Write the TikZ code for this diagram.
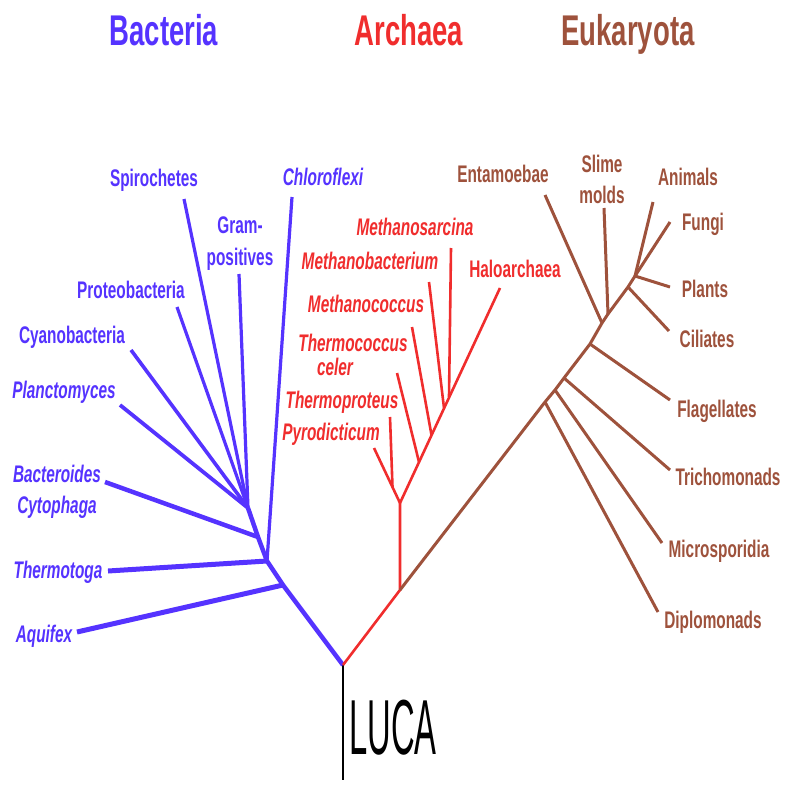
\documentclass[tikz,border=0pt]{standalone}
\usepackage{fontspec}
\setmainfont{Liberation Sans}[FakeStretch=0.64]
\newfontfamily\lucafont{Liberation Sans}[FakeStretch=0.42]
\definecolor{bact}{RGB}{85,51,255}
\definecolor{arch}{RGB}{240,45,45}
\definecolor{euk}{RGB}{158,82,60}
\begin{document}
\begin{tikzpicture}[x=1pt,y=-1pt,
  lab/.style={inner sep=0pt,anchor=base,font=\fontsize{24}{22}\selectfont\bfseries},
  itl/.style={lab,font=\fontsize{24}{22}\selectfont\bfseries\itshape},
  ttl/.style={inner sep=0pt,anchor=base,font=\fontsize{43}{43}\selectfont\bfseries},
  bl/.style={draw=bact,line width=3.2pt},
  blk/.style={draw=bact,line width=4.5pt},
  rl/.style={draw=arch,line width=2.6pt},
  el/.style={draw=euk,line width=3pt},
  line cap=butt, line join=round]
\useasboundingbox (0,0) rectangle (800,800);

% titles
\node[ttl,text=bact] (tB) at (164,46) {Bacteria};
\node[ttl,text=arch] (tA) at (409,46) {Archaea};
\node[ttl,text=euk]  (tE) at (628,46) {Eukaryota};

% root
\coordinate (root) at (343,665);
\coordinate (lucaend) at (343,780);
\draw[line width=2.6pt] (root) -- (lucaend);
\node[inner sep=0pt,anchor=base west,font=\fontsize{78}{78}\selectfont\lucafont] (luca) at (349,754) {LUCA};

% ---------------- Bacteria
\coordinate (b1) at (283,585);
\coordinate (b2) at (267,561);
\coordinate (b3) at (258,537);
\coordinate (b4) at (248,508);
\coordinate (eaq) at (77,632);
\coordinate (eth) at (108,571);
\coordinate (ebc) at (105,482);
\coordinate (epl) at (120,405);
\coordinate (ecy) at (131,350);
\coordinate (epr) at (177,307);
\coordinate (esp) at (184,199);
\coordinate (egp) at (239,274);
\coordinate (ech) at (292,197);
\draw[blk] (root) -- (b1) -- (b2) -- (b3) -- (b4);
\draw[blk,line width=5pt] (b1) -- (eaq);
\draw[blk,line width=5pt] (b2) -- (eth);
\draw[blk] (b3) -- (ebc);
\draw[bl] (b2) -- (ech);
\draw[bl,line width=3.8pt] (b4) -- (epl);
\draw[bl,line width=3.6pt] (b4) -- (ecy);
\draw[bl] (b4) -- (epr);
\draw[bl] (b4) -- (esp);
\draw[bl] (b4) -- (egp);

\node[lab,text=bact] (sp) at (154,186) {Spirochetes};
\node[itl,text=bact] (ch) at (323,185) {Chloroflexi};
\node[lab,text=bact] (gp1) at (240,233) {Gram-};
\node[lab,text=bact] (gp2) at (240,265) {positives};
\node[lab,text=bact] (pr) at (131,298) {Proteobacteria};
\node[lab,text=bact] (cy) at (72,343) {Cyanobacteria};
\node[itl,text=bact] (pl) at (64,398) {Planctomyces};
\node[itl,text=bact] (bc1) at (57,482) {Bacteroides};
\node[itl,text=bact] (bc2) at (57,513) {Cytophaga};
\node[itl,text=bact] (th) at (58,578) {Thermotoga};
\node[itl,text=bact] (aq) at (44,642) {Aquifex};

% ---------------- Archaea
\coordinate (a0) at (400,590);
\coordinate (a1) at (400,503);
\coordinate (atp) at (392.5,487);
\coordinate (atc) at (419,462);
\coordinate (amc) at (431.5,435);
\coordinate (amb) at (444,408);
\coordinate (ams) at (449,397);
\coordinate (eha) at (500,288);
\coordinate (epy) at (374,448);
\coordinate (etp) at (390,417);
\coordinate (etc) at (397,373);
\coordinate (emc) at (412,327);
\coordinate (emb) at (429,282);
\coordinate (ems) at (451,248);
\draw[rl] (root) -- (a0) -- (a1);
\draw[rl] (a1) -- (epy);
\draw[rl] (atp) -- (etp);
\draw[rl] (a1) -- (eha);
\draw[rl] (atc) -- (etc);
\draw[rl] (amc) -- (emc);
\draw[rl] (amb) -- (emb);
\draw[rl] (ams) -- (ems);

\node[itl,text=arch] (ms) at (415,235) {Methanosarcina};
\node[itl,text=arch] (mb) at (370,269) {Methanobacterium};
\node[lab,text=arch] (ha) at (515,277) {Haloarchaea};
\node[itl,text=arch] (mc) at (366,312) {Methanococcus};
\node[itl,text=arch] (tc1) at (353,351) {Thermococcus};
\node[itl,text=arch] (tc2) at (335,375) {celer};
\node[itl,text=arch] (tp) at (342,408) {Thermoproteus};
\node[itl,text=arch] (py) at (331,440) {Pyrodicticum};

% ---------------- Eukaryota
\coordinate (jdi) at (545,402);
\coordinate (jmi) at (555,390);
\coordinate (jtr) at (564,378);
\coordinate (jfl) at (590,344);
\coordinate (jen) at (602,323);
\coordinate (jsl) at (608,314);
\coordinate (jci) at (628,287);
\coordinate (jtop) at (635,276);
\coordinate (edi) at (658,612);
\coordinate (emi) at (662,543);
\coordinate (etr) at (670,470);
\coordinate (efl) at (670,400);
\coordinate (een) at (545,195);
\coordinate (esl) at (604,208);
\coordinate (eci) at (669,331);
\coordinate (epa) at (670,287);
\coordinate (ean) at (653,202);
\coordinate (efu) at (670,222);
\draw[el] (a0) -- (jdi) -- (jmi) -- (jtr) -- (jfl) -- (jen) -- (jsl) -- (jci) -- (jtop);
\draw[el] (jdi) -- (edi);
\draw[el] (jmi) -- (emi);
\draw[el] (jtr) -- (etr);
\draw[el] (jfl) -- (efl);
\draw[el] (jen) -- (een);
\draw[el] (jsl) -- (esl);
\draw[el] (jci) -- (eci);
\draw[el] (jtop) -- (epa);
\draw[el] (jtop) -- (ean);
\draw[el] (jtop) -- (efu);

\node[lab,text=euk] (en) at (503,182) {Entamoebae};
\node[lab,text=euk] (sl1) at (602,172) {Slime};
\node[lab,text=euk] (sl2) at (602,203) {molds};
\node[lab,text=euk] (an) at (688,185) {Animals};
\node[lab,text=euk] (fu) at (703,230) {Fungi};
\node[lab,text=euk] (pa) at (705,297) {Plants};
\node[lab,text=euk] (ci) at (707,347) {Ciliates};
\node[lab,text=euk] (fl) at (717,417) {Flagellates};
\node[lab,text=euk] (tr) at (728,485) {Trichomonads};
\node[lab,text=euk] (mi) at (719,557) {Microsporidia};
\node[lab,text=euk] (di) at (713,628) {Diplomonads};
\end{tikzpicture}
\end{document}
